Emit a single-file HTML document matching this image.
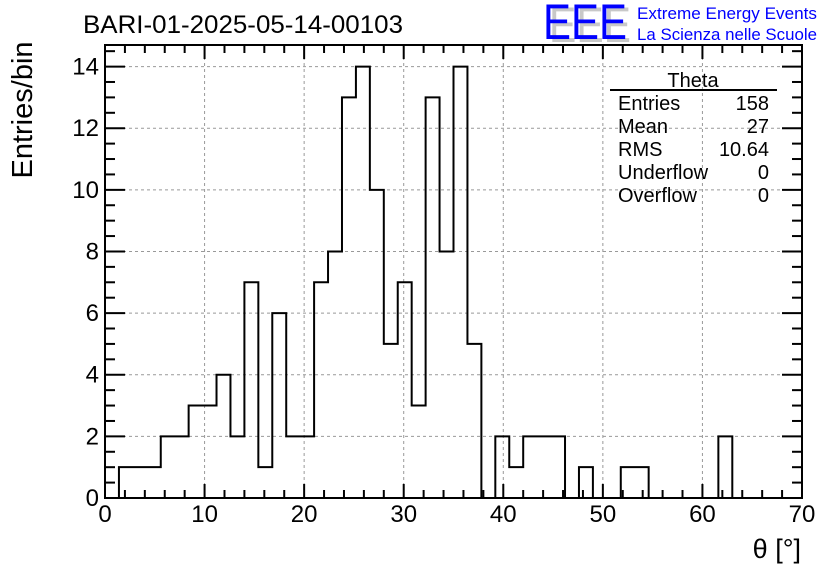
<!DOCTYPE html>
<html><head><meta charset="utf-8"><style>
body{margin:0;background:#fff;width:836px;height:572px;overflow:hidden}
svg text{font-family:"Liberation Sans",sans-serif}
</style></head><body>
<svg id="c" width="836" height="572">
<text x="83" y="33" font-size="25" textLength="320" lengthAdjust="spacingAndGlyphs">BARI-01-2025-05-14-00103</text>
<g>
<text x="549" y="42" font-size="50" fill="#c8c8c8" textLength="82" lengthAdjust="spacingAndGlyphs">EEE</text>
<text x="543" y="39" font-size="50" fill="#0000ff" textLength="84" lengthAdjust="spacingAndGlyphs">EEE</text>
<text x="637" y="19" font-size="17" fill="#0000ff" textLength="180" lengthAdjust="spacingAndGlyphs">Extreme Energy Events</text>
<text x="637" y="40" font-size="17" fill="#0000ff" textLength="180" lengthAdjust="spacingAndGlyphs">La Scienza nelle Scuole</text>
</g>
<text transform="translate(32,110) rotate(-90)" text-anchor="middle" font-size="29">Entries/bin</text>
<text x="801" y="558" text-anchor="end" font-size="27">θ [°]</text>
<g id="grid"></g><g id="hist"></g><g id="axes"></g>
<g font-size="20">
<text x="693" y="87" text-anchor="middle">Theta</text>
<line x1="610" y1="90" x2="777" y2="90" stroke="#000" stroke-width="2"/>
<text x="618" y="110">Entries</text><text x="769" y="110" text-anchor="end">158</text>
<text x="618" y="133">Mean</text><text x="769" y="133" text-anchor="end">27</text>
<text x="618" y="156">RMS</text><text x="769" y="156" text-anchor="end">10.64</text>
<text x="618" y="179">Underflow</text><text x="769" y="179" text-anchor="end">0</text>
<text x="618" y="202">Overflow</text><text x="769" y="202" text-anchor="end">0</text>
</g>
</svg>
<script>
const counts=[0,1,1,1,2,2,3,3,4,2,7,1,6,2,2,7,8,13,14,10,5,7,3,13,8,14,5,0,2,1,2,2,2,0,1,0,0,1,1,0,0,0,0,0,2,0,0,0,0,0];
const xTicks=[0,10,20,30,40,50,60,70];
const yTicks=[0,2,4,6,8,10,12,14];
const binWidth=1.4;
const L=105,R=802,T=45,B=498,XMAX=70,YMAX=14.7;
const sx=v=>L+(R-L)*v/XMAX, sy=v=>B-(B-T)*v/YMAX;
const NS="http://www.w3.org/2000/svg";
function mk(p,t,a){const e=document.createElementNS(NS,t);for(const k in a)e.setAttribute(k,a[k]);p.appendChild(e);return e;}
const g=document.getElementById('grid'),h=document.getElementById('hist'),ax=document.getElementById('axes');
xTicks.slice(1,-1).forEach(v=>{const l=mk(g,'line',{x1:sx(v),x2:sx(v),y1:T,y2:B,stroke:'#999','stroke-dasharray':'3,3'});

});
yTicks.slice(1).forEach(v=>{const l=mk(g,'line',{x1:L,x2:R,y1:sy(v),y2:sy(v),stroke:'#999','stroke-dasharray':'3,3'});

});
let d='M'+sx(0)+','+sy(0);
counts.forEach((c,i)=>{d+=' L'+sx(i*binWidth)+','+sy(c)+' L'+sx((i+1)*binWidth)+','+sy(c);});
d+=' L'+sx(counts.length*binWidth)+','+sy(0);
const p=mk(h,'path',{d:d,fill:'none',stroke:'#000','stroke-width':2});


const f=mk(ax,'rect',{x:L,y:T,width:R-L,height:B-T,fill:'none',stroke:'#000','stroke-width':2});


for(let v=0;v<=XMAX+0.001;v+=2){const maj=v%10===0,len=maj?14:8;
mk(ax,'line',{x1:sx(v),x2:sx(v),y1:B,y2:B-len,stroke:'#000','stroke-width':2});
mk(ax,'line',{x1:sx(v),x2:sx(v),y1:T,y2:T+len,stroke:'#000','stroke-width':2});}
for(let v=0;v<=YMAX;v+=0.5){const maj=v%2===0,len=maj?20:10;
mk(ax,'line',{x1:L,x2:L+len,y1:sy(v),y2:sy(v),stroke:'#000','stroke-width':2});
mk(ax,'line',{x1:R,x2:R-len,y1:sy(v),y2:sy(v),stroke:'#000','stroke-width':2});}
xTicks.forEach(v=>{const t=mk(ax,'text',{x:sx(v),y:522,'text-anchor':'middle','font-size':24});t.textContent=v;

});
yTicks.forEach(v=>{const t=mk(ax,'text',{x:99,y:sy(v)+8,'text-anchor':'end','font-size':24});t.textContent=v;

});
</script>
</body></html>
